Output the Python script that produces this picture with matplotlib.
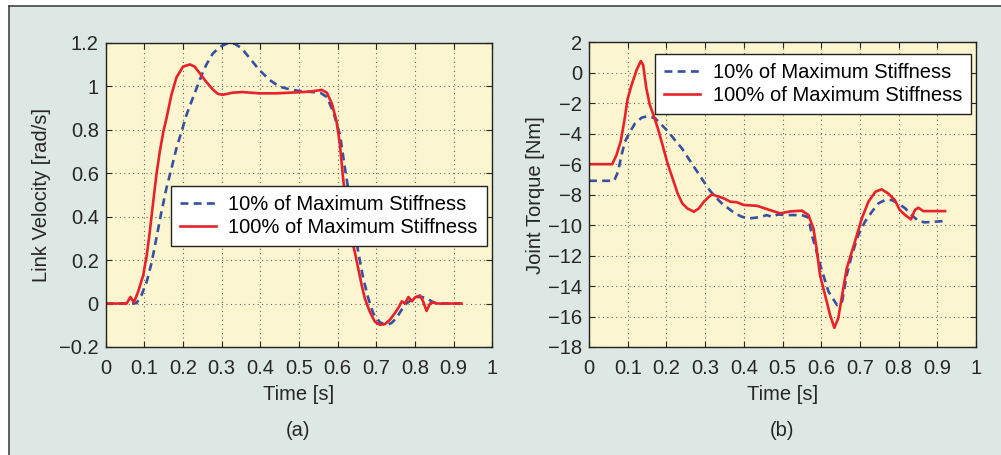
import matplotlib
matplotlib.use("Agg")
import matplotlib.pyplot as plt
from matplotlib.patches import Rectangle
from matplotlib.lines import Line2D

plt.rcParams["font.family"] = ["Liberation Sans", "DejaVu Sans"]

# ---------------- data ----------------
# (a) link velocity, 100% of maximum stiffness
vel_full_t = [0, 0.054, 0.064, 0.073, 0.084, 0.097, 0.106, 0.114, 0.123, 0.131, 0.14,
              0.149, 0.157, 0.17, 0.183, 0.2, 0.218, 0.23, 0.243, 0.26, 0.277, 0.29,
              0.302, 0.328, 0.354, 0.397, 0.44, 0.5, 0.528, 0.559, 0.572, 0.585, 0.597,
              0.606, 0.614, 0.623, 0.631, 0.644, 0.653, 0.662, 0.67, 0.683, 0.696, 0.709,
              0.722, 0.735, 0.748, 0.757, 0.766, 0.774, 0.783, 0.792, 0.8, 0.813, 0.821,
              0.83, 0.839, 0.847, 0.856, 0.92]
vel_full = [0, 0, 0.03, 0.005, 0.055, 0.13, 0.22, 0.33, 0.47, 0.59, 0.70,
            0.79, 0.85, 0.96, 1.04, 1.09, 1.10, 1.09, 1.06, 1.02, 0.985, 0.965,
            0.96, 0.97, 0.973, 0.967, 0.967, 0.972, 0.975, 0.983, 0.97, 0.92, 0.84,
            0.73, 0.577, 0.44, 0.33, 0.24, 0.163, 0.086, 0.025, -0.037, -0.083, -0.098,
            -0.095, -0.075, -0.044, -0.02, 0.01, 0.0, 0.03, 0.01, 0.028, 0.037, 0.01,
            -0.034, 0.0, 0.005, 0.0, 0.0]

# (a) link velocity, 10% of maximum stiffness
vel_low_t = [0, 0.072, 0.08, 0.093, 0.106, 0.119, 0.131, 0.144, 0.157, 0.17, 0.183,
             0.196, 0.209, 0.222, 0.235, 0.248, 0.26, 0.277, 0.295, 0.312, 0.334, 0.351,
             0.372, 0.397, 0.423, 0.449, 0.475, 0.5, 0.555, 0.572, 0.589, 0.606, 0.619,
             0.627, 0.64, 0.653, 0.666, 0.679, 0.692, 0.709, 0.726, 0.739, 0.752, 0.765,
             0.778, 0.791, 0.804, 0.817, 0.83, 0.843, 0.856, 0.92]
vel_low = [0, 0, 0.002, 0.04, 0.10, 0.19, 0.30, 0.42, 0.53, 0.62, 0.715,
           0.79, 0.868, 0.93, 0.99, 1.05, 1.098, 1.15, 1.18, 1.195, 1.195, 1.175,
           1.13, 1.075, 1.03, 0.998, 0.986, 0.978, 0.97, 0.95, 0.88, 0.776, 0.62,
           0.53, 0.377, 0.24, 0.117, 0.025, -0.045, -0.086, -0.10, -0.09, -0.067, -0.03,
           0.0, 0.017, 0.03, 0.03, 0.025, 0.01, 0.0, 0.0]

# (b) joint torque, 100% of maximum stiffness
trq_full_t = [0, 0.06, 0.071, 0.082, 0.091, 0.1, 0.11, 0.123, 0.134, 0.14, 0.148,
              0.157, 0.165, 0.178, 0.19, 0.203, 0.216, 0.229, 0.241, 0.254, 0.271,
              0.284, 0.297, 0.31, 0.318, 0.331, 0.348, 0.365, 0.382, 0.4, 0.434, 0.46,
              0.494, 0.52, 0.55, 0.567, 0.58, 0.588, 0.597, 0.61, 0.623, 0.634, 0.644,
              0.657, 0.666, 0.687, 0.705, 0.722, 0.74, 0.756, 0.773, 0.79, 0.803, 0.817,
              0.832, 0.842, 0.851, 0.864, 0.92]
trq_full = [-6.0, -6.0, -5.4, -4.5, -3.2, -1.7, -0.8, 0.18, 0.77, 0.5, -1.0,
            -2.1, -2.66, -3.65, -4.74, -5.95, -6.93, -7.92, -8.57, -8.9, -9.12,
            -8.9, -8.46, -8.14, -7.98, -8.1, -8.24, -8.46, -8.5, -8.68, -8.73, -8.95,
            -9.23, -9.1, -9.05, -9.34, -10.22, -11.53, -13.28, -14.59, -15.9, -16.74, -16.12,
            -14.15, -12.84, -11.09, -9.56, -8.46, -7.81, -7.65, -7.92, -8.35, -9.01, -9.34,
            -9.62, -9.01, -8.86, -9.08, -9.08]

# (b) joint torque, 10% of maximum stiffness
trq_low_t = [0, 0.065, 0.075, 0.084, 0.093, 0.106, 0.119, 0.136, 0.153, 0.171, 0.188,
             0.205, 0.222, 0.24, 0.257, 0.274, 0.291, 0.308, 0.326, 0.343, 0.36, 0.377,
             0.395, 0.412, 0.429, 0.446, 0.459, 0.472, 0.489, 0.506, 0.55, 0.567, 0.576,
             0.6, 0.619, 0.641, 0.654, 0.666, 0.679, 0.696, 0.713, 0.731, 0.748, 0.765,
             0.782, 0.799, 0.817, 0.834, 0.851, 0.868, 0.92]
trq_low = [-7.09, -7.09, -6.49, -5.4, -4.52, -3.87, -3.32, -2.95, -2.84, -2.99, -3.43,
           -3.87, -4.42, -4.96, -5.62, -6.28, -6.93, -7.59, -8.14, -8.57, -8.9, -9.23,
           -9.45, -9.56, -9.52, -9.45, -9.34, -9.45, -9.3, -9.34, -9.34, -9.5, -10.65,
           -12.84, -14.37, -15.25, -15.03, -13.28, -11.97, -10.65, -9.78, -9.12, -8.57, -8.35,
           -8.35, -8.57, -8.9, -9.34, -9.73, -9.82, -9.73]

labels = ["10% of Maximum Stiffness", "100% of Maximum Stiffness"]
x_ticks = [0, 0.1, 0.2, 0.3, 0.4, 0.5, 0.6, 0.7, 0.8, 0.9, 1]
x_ticklabels = ["0", "0.1", "0.2", "0.3", "0.4", "0.5", "0.6", "0.7", "0.8", "0.9", "1"]
vel_ticks = [-0.2, 0, 0.2, 0.4, 0.6, 0.8, 1, 1.2]
vel_ticklabels = ["\u22120.2", "0", "0.2", "0.4", "0.6", "0.8", "1", "1.2"]
trq_ticks = list(range(-18, 3, 2))

BLUE = "#3650a2"
RED = "#e8212b"
TXT = "#262626"
FS = 14.5

fig = plt.figure(figsize=(10.01, 4.55), dpi=100, facecolor="white")

# background panel with dark left/top border (kept behind the axes)
fig.patches.append(Rectangle((9 / 1001, 0), 1.0, 1 - 6 / 455, transform=fig.transFigure,
                             facecolor="#dde8e4", edgecolor="none", zorder=-10))
fig.lines.append(Line2D([9 / 1001, 9 / 1001], [0, 1 - 6 / 455], transform=fig.transFigure,
                        color="#444444", lw=1.2, zorder=-9))
fig.lines.append(Line2D([9 / 1001, 1], [1 - 6 / 455, 1 - 6 / 455], transform=fig.transFigure,
                        color="#444444", lw=1.2, zorder=-9))

ax1 = fig.add_axes([105.7 / 1001, 1 - 347 / 455, 386.6 / 1001, 304.3 / 455])
ax2 = fig.add_axes([589 / 1001, 1 - 347 / 455, 387 / 1001, 304.7 / 455])

for ax in (ax1, ax2):
    ax.set_facecolor("#fbf6cf")
    ax.grid(True, linestyle=(0, (1, 3)), color="#666666", linewidth=0.8)
    ax.tick_params(direction="in", length=4, width=0.8, top=True, right=True,
                   labelsize=FS, colors=TXT, pad=5)
    ax.tick_params(axis="x", pad=9)
    for sp in ax.spines.values():
        sp.set_color("#222222")
        sp.set_linewidth(1.0)
    ax.set_xlim(0, 1)
    ax.set_xticks(x_ticks)
    ax.set_xticklabels(x_ticklabels)
    ax.set_xlabel("Time [s]", fontsize=FS, color=TXT, labelpad=5)

legend_kw = dict(fontsize=FS, frameon=True, fancybox=False, edgecolor="#222222",
                 framealpha=1, handlelength=1.8, handletextpad=0.6, borderpad=0.45,
                 labelspacing=0.2, borderaxespad=0, loc="upper right")

# ---------------- (a) ----------------
ax1.plot(vel_low_t, vel_low, color=BLUE, lw=1.9, linestyle=(0, (3, 2)), label=labels[0])
ax1.plot(vel_full_t, vel_full, color=RED, lw=1.9, label=labels[1])
ax1.set_ylim(-0.2, 1.2)
ax1.set_yticks(vel_ticks)
ax1.set_yticklabels(vel_ticklabels)
ax1.set_ylabel("Link Velocity [rad/s]", fontsize=FS, color=TXT, labelpad=6)
ax1.legend(bbox_to_anchor=(0.986, 0.529), **legend_kw)

# ---------------- (b) ----------------
ax2.plot(trq_low_t, trq_low, color=BLUE, lw=1.9, linestyle=(0, (3, 2)), label=labels[0])
ax2.plot(trq_full_t, trq_full, color=RED, lw=1.9, label=labels[1])
ax2.set_ylim(-18, 2)
ax2.set_yticks(trq_ticks)
ax2.set_ylabel("Joint Torque [Nm]", fontsize=FS, color=TXT, labelpad=2)
ax2.legend(bbox_to_anchor=(0.987, 0.962), **legend_kw)

fig.text(298 / 1001, 1 - 431 / 455, "(a)", ha="center", va="center", fontsize=FS, color=TXT)
fig.text(782 / 1001, 1 - 431 / 455, "(b)", ha="center", va="center", fontsize=FS, color=TXT)

fig.savefig("out.png", dpi=100, facecolor="white")
